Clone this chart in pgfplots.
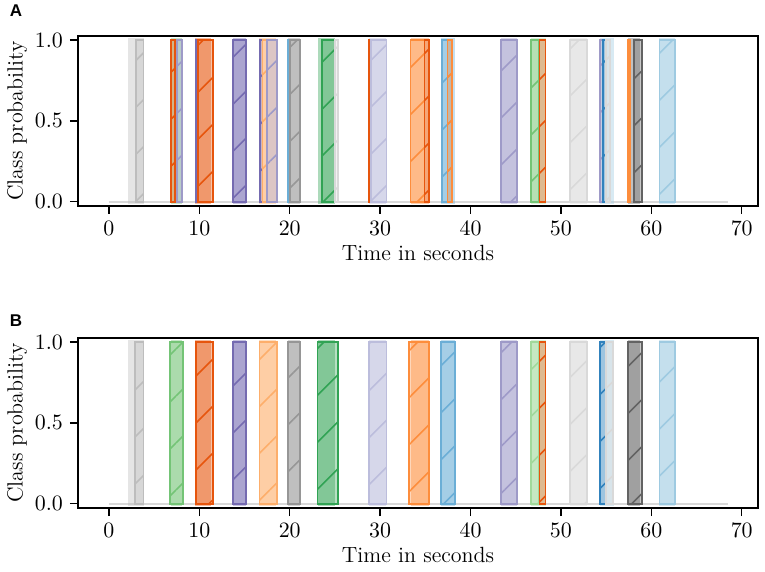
\documentclass[border=0pt]{standalone}
\usepackage{pgfplots}
\pgfplotsset{compat=1.18}
\usepackage{fontspec}
\newfontfamily\panelfont{Liberation Sans}
\usetikzlibrary{patterns.meta}

\definecolor{C1}{HTML}{3182BD}
\definecolor{C2}{HTML}{6BAED6}
\definecolor{C3}{HTML}{9ECAE1}
\definecolor{O1}{HTML}{E6550D}
\definecolor{O2}{HTML}{FD8D3C}
\definecolor{O3}{HTML}{FDAE6B}
\definecolor{G1}{HTML}{31A354}
\definecolor{G2}{HTML}{74C476}
\definecolor{G3}{HTML}{A1D99B}
\definecolor{P1}{HTML}{756BB1}
\definecolor{P2}{HTML}{9E9AC8}
\definecolor{P3}{HTML}{BCBDDC}
\definecolor{K1}{HTML}{636363}
\definecolor{K2}{HTML}{969696}
\definecolor{K3}{HTML}{BDBDBD}
\definecolor{K4}{HTML}{D9D9D9}

% ground-truth span (filled, slightly taller, no edge)
\newcommand{\gt}[3]{\addplot[draw=none, fill=#3, fill opacity=0.4, forget plot]
  coordinates {(#1,-0.015)(#1,1.015)(#2,1.015)(#2,-0.015)} -- cycle;}
% predicted span (edge, hatch, light fill)
\newcommand{\pr}[3]{\addplot[draw=#3, line width=0.9pt, forget plot,
  preaction={fill=#3, fill opacity=0.35},
  pattern={Lines[angle=45,distance=16.6pt,line width=0.8pt]}, pattern color=#3]
  coordinates {(#1,0)(#1,1)(#2,1)(#2,0)} -- cycle;}

\newcommand{\groundtruth}{%
  \gt{2.06}{3.83}{K3}
  \gt{6.91}{8.11}{G2}
  \gt{9.55}{11.25}{O1}
  \gt{13.70}{15.18}{P1}
  \gt{16.60}{18.50}{O3}
  \gt{19.77}{21.17}{K2}
  \gt{23.08}{25.00}{G1}
  \gt{28.80}{30.70}{P3}
  \gt{33.37}{35.40}{O2}
  \gt{36.70}{38.30}{C2}
  \gt{43.40}{45.10}{P2}
  \gt{46.70}{48.30}{G3}
  \gt{51.00}{52.85}{K4}
  \gt{54.30}{55.90}{C3}
  \gt{57.40}{58.70}{K1}
  \gt{60.90}{62.60}{C3}
}

\pgfplotsset{
  panel/.style={
    scale only axis, width=340pt, height=85pt,
    xmin=-3.42, xmax=71.8, ymin=-0.027, ymax=1.025,
    xtick={0,10,20,30,40,50,60,70},
    ytick={0,0.5,1},
    yticklabel style={/pgf/number format/.cd, fixed, precision=1, fixed zerofill},
    tick label style={font=\fontsize{11}{13}\selectfont},
    label style={font=\fontsize{11}{13}\selectfont},
    xlabel style={yshift=2pt},
    ylabel style={yshift=-3pt},
    tick pos=left, tick align=outside, major tick length=4pt,
    axis line style={line width=0.8pt}, every tick/.style={line width=0.7pt, black},
    xlabel={Time in seconds}, ylabel={Class probability},
    clip=false,
  }
}

\begin{document}
\begin{tikzpicture}
\useasboundingbox (-39pt,-183pt) rectangle (343.5pt,103pt);

\begin{axis}[panel, at={(0,0)}, anchor=south west]
  \addplot[K4, line width=1.1pt, forget plot] coordinates {(0,0)(68.47,0)};
  \groundtruth
  \pr{2.98}{3.83}{K3}
  \pr{6.91}{7.28}{O1}
  \pr{7.57}{8.11}{P2}
  \pr{9.63}{9.85}{P1}
  \pr{9.85}{11.50}{O1}
  \pr{13.70}{15.18}{P1}
  \pr{16.68}{16.98}{P1}
  \pr{16.98}{17.50}{O3}
  \pr{17.50}{18.60}{P2}
  \pr{19.80}{20.00}{C2}
  \pr{20.00}{21.17}{K2}
  \pr{23.55}{25.00}{G1}
  \pr{25.00}{25.36}{K4}
  \pr{28.80}{28.95}{O1}
  \pr{28.95}{30.70}{P3}
  \pr{33.37}{34.90}{O2}
  \pr{34.90}{35.45}{O1}
  \pr{36.80}{37.90}{C2}
  \pr{37.45}{37.96}{O2}
  \pr{43.40}{45.10}{P2}
  \pr{46.70}{47.60}{G2}
  \pr{47.63}{48.30}{O1}
  \pr{51.00}{52.85}{K4}
  \pr{54.30}{54.65}{P2}
  \pr{54.65}{55.00}{C1}
  \pr{55.00}{55.40}{K4}
  \pr{57.40}{57.65}{O2}
  \pr{58.10}{58.95}{K1}
  \pr{60.90}{62.60}{C3}
\end{axis}

\begin{axis}[panel, at={(0,-151pt)}, anchor=south west]
  \addplot[K4, line width=1.1pt, forget plot] coordinates {(0,0)(68.47,0)};
  \groundtruth
  \pr{2.90}{3.83}{K3}
  \pr{6.76}{8.16}{G2}
  \pr{9.59}{11.50}{O1}
  \pr{13.70}{15.18}{P1}
  \pr{16.65}{18.60}{O3}
  \pr{19.77}{21.17}{K2}
  \pr{23.08}{25.30}{G1}
  \pr{28.80}{30.70}{P3}
  \pr{33.20}{35.40}{O2}
  \pr{36.70}{38.30}{C2}
  \pr{43.40}{45.10}{P2}
  \pr{46.70}{47.60}{G3}
  \pr{47.63}{48.30}{O1}
  \pr{51.00}{52.85}{K4}
  \pr{54.30}{55.00}{C1}
  \pr{55.00}{55.80}{K4}
  \pr{57.45}{58.95}{K1}
  \pr{60.90}{62.60}{C3}
\end{axis}

\node[font=\panelfont\bfseries\fontsize{8.5}{10}\selectfont] at (-31pt,97.5pt) {A};
\node[font=\panelfont\bfseries\fontsize{8.5}{10}\selectfont] at (-31pt,-57.5pt) {B};
\end{tikzpicture}
\end{document}
